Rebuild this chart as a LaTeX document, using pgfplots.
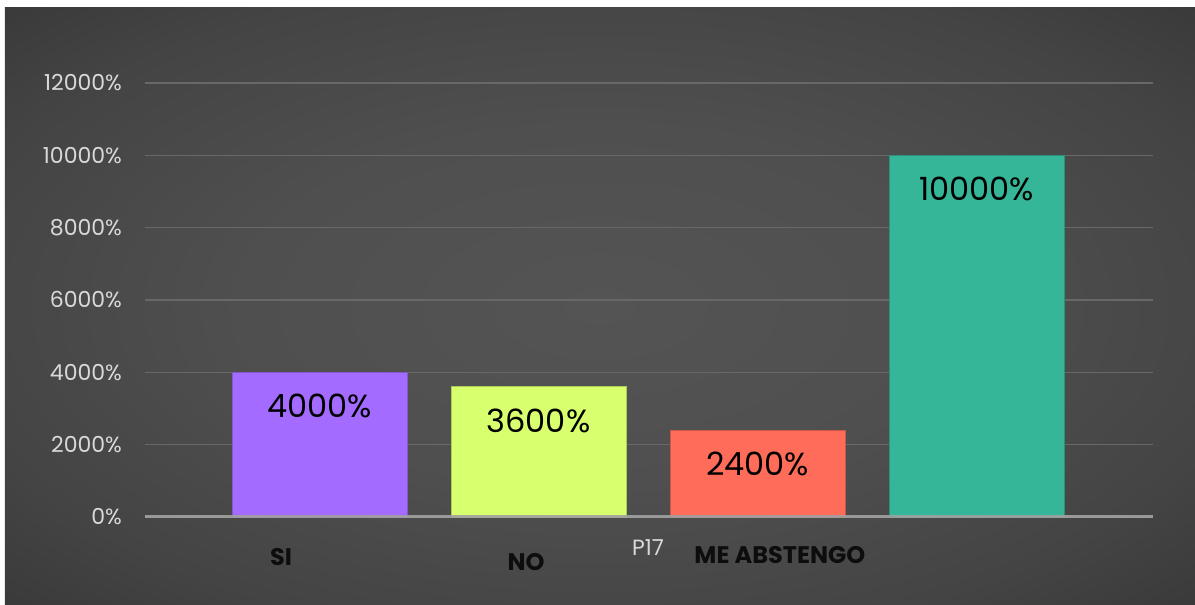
\documentclass[border=0pt]{standalone}
\usepackage{pgfplots}
\pgfplotsset{compat=1.18}
\usepackage{fontspec}
\setmainfont{Poppins}
\definecolor{cPurple}{HTML}{A36BFF}
\definecolor{cLime}{HTML}{D7FF6E}
\definecolor{cSalmon}{HTML}{FF6D5A}
\definecolor{cTeal}{HTML}{36B698}
\definecolor{cTick}{HTML}{D9D9D9}
\definecolor{cGrid}{HTML}{686868}
\definecolor{cAxis}{HTML}{A0A0A0}
\pgfdeclareradialshading{bgshade}{\pgfpoint{0bp}{0bp}}{%
  color(0bp)=(rgb,255:red,84;green,84;blue,84);
  color(15bp)=(rgb,255:red,79;green,79;blue,79);
  color(28bp)=(rgb,255:red,68;green,68;blue,68);
  color(40bp)=(rgb,255:red,52;green,52;blue,52);
  color(50bp)=(rgb,255:red,42;green,42;blue,42)}
\begin{document}
\begin{tikzpicture}
\fill[white] (-72.5pt,-44pt) rectangle (525pt,258.5pt);
\shade[shading=bgshade] (-70pt,-44pt) rectangle (525pt,254.5pt);
\begin{axis}[
  at={(0pt,0pt)}, anchor=south west,
  scale only axis, width=504pt, height=217pt,
  xmin=-0.797, xmax=3.806, ymin=0, ymax=12000,
  clip=false,
  axis line style={draw=none},
  major tick style={draw=none},
  xtick=\empty,
  ytick distance=2000,
  scaled y ticks=false,
  ymajorgrids, grid style={cGrid, line width=0.8pt},
  /pgf/number format/assume math mode=true,
  yticklabel={\pgfmathprintnumber[fixed,precision=0,1000 sep={}]{\tick}\%},
  yticklabel style={text=cTick, font=\fontsize{11}{13}\selectfont, xshift=-8pt},
  ybar, bar width=87.5pt, bar shift=0pt,
  nodes near coords={\pgfmathprintnumber[fixed,precision=0,1000 sep={}]{\pgfplotspointmeta}\%},
  every node near coord/.append style={anchor=center, yshift=-17pt, text=black, font=\fontsize{16}{18}\selectfont},
]
\addplot[fill=cPurple, draw=cPurple!80!black, line width=0.4pt] coordinates {(0,4000)};
\addplot[fill=cLime, draw=cLime!80!black, line width=0.4pt] coordinates {(1,3600)};
\addplot[fill=cSalmon, draw=cSalmon!80!black, line width=0.4pt] coordinates {(2,2400)};
\addplot[fill=cTeal, draw=cTeal!80!black, line width=0.4pt] coordinates {(3,10000)};
\draw[cAxis, line width=1.5pt, opacity=0.9] (rel axis cs:0,0) -- (rel axis cs:1,0);
\node[font=\bfseries\fontsize{12}{14}\selectfont, text=black!95] at (axis cs:-0.176,-1106) {SI};
\node[font=\bfseries\fontsize{12}{14}\selectfont, text=black!95] at (axis cs:0.943,-1245) {NO};
\node[font=\bfseries\fontsize{12}{14}\selectfont, text=black!95] at (axis cs:2.102,-1051) {ME ABSTENGO};
\node[font=\fontsize{11}{13}\selectfont, text=cTick] at (axis cs:1.5,-857) {P17};
\end{axis}
\end{tikzpicture}
\end{document}
